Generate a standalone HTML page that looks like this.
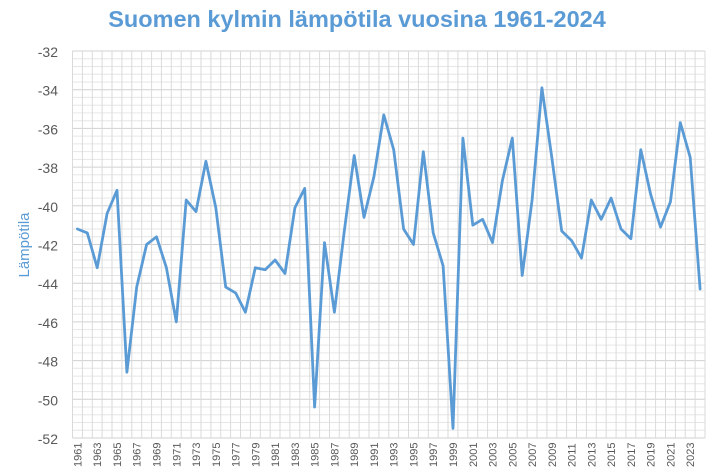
<!DOCTYPE html>
<html><head><meta charset="utf-8"><style>
body{margin:0;background:#fff;width:715px;height:476px;overflow:hidden}
svg{display:block;font-family:"Liberation Sans",sans-serif}
</style></head><body>
<svg id="s" width="715" height="476" xmlns="http://www.w3.org/2000/svg">
<text x="357" y="27" text-anchor="middle" font-size="23.5" font-weight="bold" fill="#5b9bd5">Suomen kylmin lämpötila vuosina 1961-2024</text>
<text transform="translate(29,245) rotate(-90)" text-anchor="middle" font-size="15" fill="#5b9bd5">Lämpötila</text>
<g id="g"></g>
</svg>
<script>
var d=[-41.2,-41.4,-43.2,-40.4,-39.2,-48.6,-44.2,-42.0,-41.6,-43.2,-46.0,-39.7,-40.3,-37.7,-40.1,-44.2,-44.5,-45.5,-43.2,-43.3,-42.8,-43.5,-40.1,-39.1,-50.4,-41.9,-45.5,-41.3,-37.4,-40.6,-38.5,-35.3,-37.1,-41.2,-42.0,-37.2,-41.4,-43.1,-51.5,-36.5,-41.0,-40.7,-41.9,-38.7,-36.5,-43.6,-39.7,-33.9,-37.5,-41.3,-41.8,-42.7,-39.7,-40.7,-39.6,-41.2,-41.7,-37.1,-39.4,-41.1,-39.8,-35.7,-37.5,-44.3];
var L=72.5,R=705,T=51,B=438,n=64,w=(R-L)/n;
function Y(v){return T+(-32-v)*(B-T)/20}
var h='';
for(var k=0;k<=50;k++){var v=-32-k*0.4,y=Y(v).toFixed(1);h+='<line x1="'+L+'" x2="'+R+'" y1="'+y+'" y2="'+y+'" stroke="'+(k%5==0?'#d0d0d0':'#e6e6e6')+'" stroke-width="1"/>';}
for(var i=0;i<=n;i++){var x=(L+i*w).toFixed(1);h+='<line x1="'+x+'" x2="'+x+'" y1="'+T+'" y2="'+B+'" stroke="#dadada" stroke-width="1"/>';}
for(var k=0;k<=10;k++){var v=-32-k*2;h+='<text x="58" y="'+(Y(v)+6)+'" text-anchor="end" font-size="14" fill="#595959">'+v+'</text>';}
for(var i=0;i<n;i+=2){var x=L+(i+0.5)*w;h+='<text transform="translate('+(x+4)+',467) rotate(-90)" font-size="11" fill="#595959">'+(1961+i)+'</text>';}
var p='';for(var i=0;i<n;i++){p+=(i?'L':'M')+(L+(i+0.5)*w).toFixed(1)+' '+Y(d[i]).toFixed(1);}
h+='<path d="'+p+'" fill="none" stroke="#5b9bd5" stroke-width="2.8" stroke-linejoin="round" stroke-linecap="round"/>';
document.getElementById('g').innerHTML=h;
</script>
</body></html>
